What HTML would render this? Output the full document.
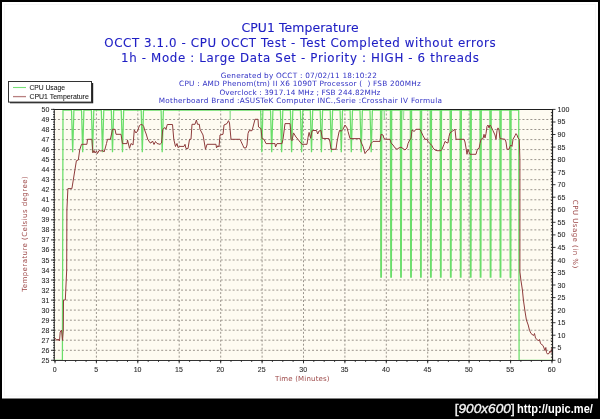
<!DOCTYPE html>
<html><head><meta charset="utf-8"><style>
html,body{margin:0;padding:0;background:#000;}
body{width:600px;height:419px;overflow:hidden;position:relative;}
svg{position:absolute;left:0;top:0;}
.g{stroke:#9a948c;stroke-width:1;stroke-dasharray:1.985 1.985;}
.al{font-family:"Liberation Sans",Arial,sans-serif;font-size:7.8px;fill:#2a2a2a;stroke:#2a2a2a;stroke-width:0.1;}
.t{font-family:"DejaVu Sans",Verdana,sans-serif;fill:#1e1ec4;stroke:#1e1ec4;stroke-width:0.12;}
.s{font-family:"DejaVu Sans",Verdana,sans-serif;fill:#3030c4;font-size:7.3px;}
.lg{font-family:"Liberation Sans",Arial,sans-serif;font-size:7.5px;fill:#1a1a1a;stroke:#1a1a1a;stroke-width:0.08;}
.ax{font-family:"DejaVu Sans",Verdana,sans-serif;font-size:7px;fill:#9c4646;}
</style></head><body>
<svg width="600" height="419" viewBox="0 0 600 419">
<rect x="0" y="0" width="600" height="419" fill="#000"/>
<rect x="2" y="2" width="596" height="396.5" fill="#fff"/>
<rect x="4.5" y="4.5" width="591" height="391.5" fill="none" stroke="#f7f7f7" stroke-width="1"/>
<text x="300" y="31.6" class="t" font-size="12.4" text-anchor="middle" textLength="117" lengthAdjust="spacing">CPU1 Temperature</text>
<text x="300" y="46.8" class="t" font-size="11.8" text-anchor="middle" textLength="391.5" lengthAdjust="spacing">OCCT 3.1.0 - CPU OCCT Test - Test Completed without errors</text>
<text x="300" y="61.5" class="t" font-size="11.8" text-anchor="middle" textLength="357.8" lengthAdjust="spacing">1h - Mode : Large Data Set - Priority : HIGH - 6 threads</text>
<text x="298.8" y="77.7" class="s" text-anchor="middle" textLength="156.2" lengthAdjust="spacing">Generated by OCCT : 07/02/11 18:10:22</text>
<text x="299.9" y="86.1" class="s" style="white-space:pre" text-anchor="middle" textLength="241.7" lengthAdjust="spacing">CPU : AMD Phenom(tm) II X6 1090T Processor (  ) FSB 200MHz</text>
<text x="299.9" y="94.7" class="s" text-anchor="middle" textLength="161" lengthAdjust="spacing">Overclock : 3917.14 MHz ; FSB 244.82MHz</text>
<text x="300.4" y="102.8" class="s" text-anchor="middle" textLength="283.3" lengthAdjust="spacing">Motherboard Brand :ASUSTeK Computer INC.,Serie :Crosshair IV Formula</text>
<!-- legend -->
<rect x="10" y="83" width="83.2" height="20.3" fill="#222"/>
<rect x="8.5" y="81.5" width="83" height="20.6" fill="#fff" stroke="#333" stroke-width="1"/>
<line x1="13" y1="87.5" x2="26" y2="87.5" stroke="#78e078" stroke-width="1.1"/>
<line x1="13" y1="96.6" x2="26" y2="96.6" stroke="#b88080" stroke-width="1.3"/>
<text x="29.4" y="89.9" class="lg" textLength="35.6" lengthAdjust="spacingAndGlyphs">CPU Usage</text>
<text x="29.4" y="99.2" class="lg" textLength="59.4" lengthAdjust="spacingAndGlyphs">CPU1 Temperature</text>
<rect x="54.0" y="109.5" width="498.5" height="250.9" fill="#fefbf1"/>
<line x1="54.0" y1="350.3" x2="552.5" y2="350.3" class="g"/>
<line x1="54.0" y1="340.2" x2="552.5" y2="340.2" class="g"/>
<line x1="54.0" y1="330.2" x2="552.5" y2="330.2" class="g"/>
<line x1="54.0" y1="320.2" x2="552.5" y2="320.2" class="g"/>
<line x1="54.0" y1="310.1" x2="552.5" y2="310.1" class="g"/>
<line x1="54.0" y1="300.1" x2="552.5" y2="300.1" class="g"/>
<line x1="54.0" y1="290.1" x2="552.5" y2="290.1" class="g"/>
<line x1="54.0" y1="280.0" x2="552.5" y2="280.0" class="g"/>
<line x1="54.0" y1="270.0" x2="552.5" y2="270.0" class="g"/>
<line x1="54.0" y1="260.0" x2="552.5" y2="260.0" class="g"/>
<line x1="54.0" y1="249.9" x2="552.5" y2="249.9" class="g"/>
<line x1="54.0" y1="239.9" x2="552.5" y2="239.9" class="g"/>
<line x1="54.0" y1="229.9" x2="552.5" y2="229.9" class="g"/>
<line x1="54.0" y1="219.8" x2="552.5" y2="219.8" class="g"/>
<line x1="54.0" y1="209.8" x2="552.5" y2="209.8" class="g"/>
<line x1="54.0" y1="199.8" x2="552.5" y2="199.8" class="g"/>
<line x1="54.0" y1="189.7" x2="552.5" y2="189.7" class="g"/>
<line x1="54.0" y1="179.7" x2="552.5" y2="179.7" class="g"/>
<line x1="54.0" y1="169.7" x2="552.5" y2="169.7" class="g"/>
<line x1="54.0" y1="159.6" x2="552.5" y2="159.6" class="g"/>
<line x1="54.0" y1="149.6" x2="552.5" y2="149.6" class="g"/>
<line x1="54.0" y1="139.6" x2="552.5" y2="139.6" class="g"/>
<line x1="54.0" y1="129.5" x2="552.5" y2="129.5" class="g"/>
<line x1="54.0" y1="119.5" x2="552.5" y2="119.5" class="g"/>
<line x1="96.4" y1="109.5" x2="96.4" y2="360.3" class="g"/>
<line x1="137.8" y1="109.5" x2="137.8" y2="360.3" class="g"/>
<line x1="179.2" y1="109.5" x2="179.2" y2="360.3" class="g"/>
<line x1="220.7" y1="109.5" x2="220.7" y2="360.3" class="g"/>
<line x1="262.1" y1="109.5" x2="262.1" y2="360.3" class="g"/>
<line x1="303.5" y1="109.5" x2="303.5" y2="360.3" class="g"/>
<line x1="344.9" y1="109.5" x2="344.9" y2="360.3" class="g"/>
<line x1="386.3" y1="109.5" x2="386.3" y2="360.3" class="g"/>
<line x1="427.7" y1="109.5" x2="427.7" y2="360.3" class="g"/>
<line x1="469.1" y1="109.5" x2="469.1" y2="360.3" class="g"/>
<line x1="510.6" y1="109.5" x2="510.6" y2="360.3" class="g"/>
<polyline points="54.5,360.4 62.4,360.4 63.0,110.0 71.5,110.0 72.7,152.2 73.9,110.0 81.5,110.0 82.7,152.2 83.9,110.0 91.4,110.0 92.6,152.2 93.8,110.0 101.3,110.0 102.5,152.2 103.8,110.0 111.3,110.0 112.5,152.2 113.7,110.0 121.2,110.0 122.5,152.2 123.7,110.0 141.2,110.0 142.3,152.2 143.5,110.0 161.1,110.0 162.2,152.2 163.4,110.0 260.6,110.0 261.8,152.2 262.9,110.0 270.5,110.0 271.7,152.2 272.9,110.0 280.4,110.0 281.6,152.2 282.8,110.0 290.4,110.0 291.6,152.2 292.8,110.0 300.4,110.0 301.6,152.2 302.8,110.0 310.3,110.0 311.5,152.2 312.7,110.0 320.2,110.0 321.4,152.2 322.6,110.0 330.2,110.0 331.4,152.2 332.6,110.0 340.1,110.0 341.3,152.2 342.5,110.0 350.1,110.0 351.3,152.2 352.5,110.0 360.0,110.0 361.2,152.2 362.4,110.0 370.0,110.0 371.2,152.2 372.4,110.0 380.5,110.0 380.8,277.0 381.4,277.0 381.8,110.0 390.4,110.0 390.8,277.0 391.4,277.0 391.7,110.0 400.4,110.0 400.7,277.0 401.3,277.0 401.7,110.0 410.3,110.0 410.7,277.0 411.3,277.0 411.6,110.0 420.3,110.0 420.6,277.0 421.2,277.0 421.6,110.0 430.2,110.0 430.6,277.0 431.2,277.0 431.5,110.0 440.2,110.0 440.5,277.0 441.1,277.0 441.5,110.0 450.1,110.0 450.5,277.0 451.1,277.0 451.4,110.0 460.1,110.0 460.4,277.0 461.0,277.0 461.4,110.0 470.1,110.0 470.4,277.0 471.0,277.0 471.3,110.0 480.0,110.0 480.3,277.0 480.9,277.0 481.3,110.0 489.9,110.0 490.3,277.0 490.9,277.0 491.2,110.0 499.9,110.0 500.2,277.0 500.8,277.0 501.2,110.0 509.8,110.0 510.2,277.0 510.8,277.0 511.1,110.0 518.7,110.0 519.1,360.4 552.0,360.4" fill="none" stroke="#6ade6a" stroke-width="1.25" stroke-linejoin="miter"/>
<path d="M229.8 110.0L230.2 119.5L230.6 110.0M383.9 110.0L384.3 119.5L384.7 110.0M403.1 110.0L403.5 120.0L403.9 110.0" fill="none" stroke="#8fdc8f" stroke-width="0.8"/>
<polyline points="54.0,340.0 55.5,338.5 57.0,340.5 58.0,339.0 59.5,341.0 60.2,332.0 61.5,330.0 62.5,340.5 63.3,330.0 63.5,300.0 65.3,300.0 66.7,270.0 66.9,210.0 67.9,188.6 71.9,188.6 76.4,160.7 78.3,160.0 79.7,150.0 81.5,144.3 86.9,144.3 87.5,139.3 91.9,139.3 92.9,152.9 94.0,150.5 95.0,153.0 96.5,151.0 97.5,153.5 99.0,150.5 101.0,151.0 103.0,150.5 104.0,152.0 105.0,149.0 106.5,143.5 107.5,139.3 110.4,139.3 111.5,134.0 112.5,129.3 115.0,129.3 116.0,134.3 121.0,134.3 122.5,143.6 127.0,143.6 127.5,140.0 129.5,148.3 131.0,143.5 133.0,145.0 134.3,130.0 136.0,133.0 137.5,131.0 139.3,126.0 140.5,124.6 142.3,124.6 143.7,126.5 145.0,131.0 146.2,134.0 147.7,139.1 150.0,142.8 151.0,143.0 152.5,141.0 154.0,144.5 155.5,141.5 157.0,143.5 160.0,144.3 161.5,143.0 162.8,129.3 165.0,127.5 166.0,129.0 167.3,124.5 172.5,124.5 173.8,139.5 175.5,146.5 177.0,143.5 178.0,147.5 180.0,146.4 184.0,146.4 185.0,144.3 186.0,148.6 188.0,148.6 189.5,139.3 191.0,139.3 192.0,124.3 195.0,124.3 196.4,120.0 197.5,124.3 199.3,124.3 200.0,129.3 203.0,135.0 205.5,149.3 207.0,144.3 216.0,144.3 216.5,147.9 218.0,145.7 219.0,147.0 220.0,135.0 223.0,134.3 224.0,125.0 227.0,123.6 228.5,120.7 229.5,123.0 231.0,139.3 240.0,139.3 241.0,141.4 243.0,145.7 244.0,147.9 246.0,147.9 247.0,145.0 248.0,133.6 249.0,130.7 252.0,130.7 253.0,127.0 255.0,119.3 258.0,119.3 258.5,127.0 261.0,128.6 262.0,138.6 264.0,139.3 266.0,143.6 275.0,143.6 275.5,147.0 277.0,143.6 282.0,143.6 283.0,139.3 285.0,123.6 290.0,123.6 290.5,129.3 291.0,139.3 292.0,140.7 293.5,132.9 296.0,137.0 298.0,139.3 300.0,142.0 302.0,144.3 307.0,144.3 308.0,137.5 309.1,132.4 310.7,138.3 312.0,131.0 313.0,130.5 316.5,130.5 317.7,134.0 319.0,131.0 321.0,130.5 322.3,138.4 329.0,138.6 330.0,142.0 331.0,149.3 336.0,149.3 337.0,142.0 339.0,132.0 340.0,130.0 341.0,131.4 343.0,129.3 345.0,125.0 347.0,127.9 348.0,131.4 350.0,138.6 360.0,138.6 361.0,142.0 363.0,146.4 365.0,153.6 367.0,150.7 369.0,149.3 371.0,143.6 373.0,141.4 380.0,141.4 381.0,134.3 383.0,135.0 384.0,138.6 386.0,139.3 390.0,139.3 391.0,142.9 393.0,145.0 395.0,147.9 397.0,149.3 399.0,147.9 401.0,147.1 403.0,148.6 405.0,150.0 407.0,147.9 408.0,143.6 410.0,139.3 411.0,138.6 412.0,130.0 414.0,131.4 415.0,130.7 416.0,129.3 420.0,129.3 421.0,131.4 423.0,135.7 425.0,139.3 427.0,139.3 428.0,141.4 430.0,143.6 432.0,145.7 433.0,147.9 435.0,150.0 437.0,150.7 441.0,150.7 442.0,149.3 444.0,144.3 445.0,141.4 447.0,142.9 448.0,142.9 449.0,136.4 450.0,132.9 452.0,131.4 454.0,130.0 455.0,129.3 456.0,139.3 464.0,139.3 465.0,142.0 466.0,147.9 467.0,154.3 468.0,149.3 469.0,152.1 470.0,154.3 476.0,154.3 477.0,150.7 478.0,148.6 479.0,148.6 480.0,143.6 481.0,139.3 483.0,138.6 484.0,134.3 485.0,137.9 486.0,133.6 487.0,126.4 488.0,125.0 489.0,127.9 490.0,125.0 491.0,126.4 493.0,130.7 495.0,135.0 496.0,139.3 497.0,130.7 498.0,127.9 499.0,130.0 500.0,138.6 505.0,139.3 506.0,142.0 507.0,149.3 509.0,149.3 510.0,146.4 511.0,145.0 512.0,146.4 513.0,139.3 515.0,135.7 516.0,133.6 517.0,135.0 518.0,137.9 519.3,139.3 519.9,160.0 519.9,272.0 520.9,280.0 522.4,290.0 523.4,300.0 524.8,310.0 526.4,320.0 528.2,325.0 529.5,330.3 531.0,333.5 533.5,335.5 534.5,333.5 535.5,338.0 536.5,339.0 538.5,341.0 539.5,339.5 540.5,343.5 543.0,345.5 544.0,348.0 545.0,350.5 545.8,347.5 546.5,352.5 547.5,354.0 549.0,353.5 550.0,351.0 551.0,352.5 552.2,347.0" fill="none" stroke="#8e3c3c" stroke-width="1" />
<line x1="53.7" y1="109.5" x2="553.1" y2="109.5" stroke="#1e1e1e" stroke-width="1.1"/>
<line x1="54.3" y1="109.5" x2="54.3" y2="361.2" stroke="#333" stroke-width="1"/>
<line x1="552.5" y1="109.5" x2="552.5" y2="361.0" stroke="#222" stroke-width="1.2"/>
<line x1="53.8" y1="360.45" x2="553.1" y2="360.45" stroke="#333" stroke-width="1.1"/>
<path d="M51.0 360.3H54.0M51.0 350.3H54.0M51.0 340.2H54.0M51.0 330.2H54.0M51.0 320.2H54.0M51.0 310.1H54.0M51.0 300.1H54.0M51.0 290.1H54.0M51.0 280.0H54.0M51.0 270.0H54.0M51.0 260.0H54.0M51.0 249.9H54.0M51.0 239.9H54.0M51.0 229.9H54.0M51.0 219.8H54.0M51.0 209.8H54.0M51.0 199.8H54.0M51.0 189.7H54.0M51.0 179.7H54.0M51.0 169.7H54.0M51.0 159.6H54.0M51.0 149.6H54.0M51.0 139.6H54.0M51.0 129.5H54.0M51.0 119.5H54.0M51.0 109.4H54.0M53.0 360.3H54.8M53.0 357.8H54.8M53.0 355.3H54.8M53.0 352.8H54.8M53.0 350.3H54.8M53.0 347.8H54.8M53.0 345.2H54.8M53.0 342.7H54.8M53.0 340.2H54.8M53.0 337.7H54.8M53.0 335.2H54.8M53.0 332.7H54.8M53.0 330.2H54.8M53.0 327.7H54.8M53.0 325.2H54.8M53.0 322.7H54.8M53.0 320.2H54.8M53.0 317.7H54.8M53.0 315.1H54.8M53.0 312.6H54.8M53.0 310.1H54.8M53.0 307.6H54.8M53.0 305.1H54.8M53.0 302.6H54.8M53.0 300.1H54.8M53.0 297.6H54.8M53.0 295.1H54.8M53.0 292.6H54.8M53.0 290.1H54.8M53.0 287.6H54.8M53.0 285.0H54.8M53.0 282.5H54.8M53.0 280.0H54.8M53.0 277.5H54.8M53.0 275.0H54.8M53.0 272.5H54.8M53.0 270.0H54.8M53.0 267.5H54.8M53.0 265.0H54.8M53.0 262.5H54.8M53.0 260.0H54.8M53.0 257.5H54.8M53.0 254.9H54.8M53.0 252.4H54.8M53.0 249.9H54.8M53.0 247.4H54.8M53.0 244.9H54.8M53.0 242.4H54.8M53.0 239.9H54.8M53.0 237.4H54.8M53.0 234.9H54.8M53.0 232.4H54.8M53.0 229.9H54.8M53.0 227.3H54.8M53.0 224.8H54.8M53.0 222.3H54.8M53.0 219.8H54.8M53.0 217.3H54.8M53.0 214.8H54.8M53.0 212.3H54.8M53.0 209.8H54.8M53.0 207.3H54.8M53.0 204.8H54.8M53.0 202.3H54.8M53.0 199.8H54.8M53.0 197.2H54.8M53.0 194.7H54.8M53.0 192.2H54.8M53.0 189.7H54.8M53.0 187.2H54.8M53.0 184.7H54.8M53.0 182.2H54.8M53.0 179.7H54.8M53.0 177.2H54.8M53.0 174.7H54.8M53.0 172.2H54.8M53.0 169.7H54.8M53.0 167.1H54.8M53.0 164.6H54.8M53.0 162.1H54.8M53.0 159.6H54.8M53.0 157.1H54.8M53.0 154.6H54.8M53.0 152.1H54.8M53.0 149.6H54.8M53.0 147.1H54.8M53.0 144.6H54.8M53.0 142.1H54.8M53.0 139.6H54.8M53.0 137.0H54.8M53.0 134.5H54.8M53.0 132.0H54.8M53.0 129.5H54.8M53.0 127.0H54.8M53.0 124.5H54.8M53.0 122.0H54.8M53.0 119.5H54.8M53.0 117.0H54.8M53.0 114.5H54.8M53.0 112.0H54.8M53.0 109.4H54.8M552.5 360.3H555.5M552.5 347.8H555.5M552.5 335.2H555.5M552.5 322.7H555.5M552.5 310.1H555.5M552.5 297.6H555.5M552.5 285.0H555.5M552.5 272.5H555.5M552.5 260.0H555.5M552.5 247.4H555.5M552.5 234.9H555.5M552.5 222.3H555.5M552.5 209.8H555.5M552.5 197.2H555.5M552.5 184.7H555.5M552.5 172.2H555.5M552.5 159.6H555.5M552.5 147.1H555.5M552.5 134.5H555.5M552.5 122.0H555.5M552.5 109.4H555.5M550.9 360.3H552.5M550.9 357.2H552.5M550.9 354.0H552.5M550.9 350.9H552.5M550.9 347.8H552.5M550.9 344.6H552.5M550.9 341.5H552.5M550.9 338.4H552.5M550.9 335.2H552.5M550.9 332.1H552.5M550.9 328.9H552.5M550.9 325.8H552.5M550.9 322.7H552.5M550.9 319.5H552.5M550.9 316.4H552.5M550.9 313.3H552.5M550.9 310.1H552.5M550.9 307.0H552.5M550.9 303.9H552.5M550.9 300.7H552.5M550.9 297.6H552.5M550.9 294.5H552.5M550.9 291.3H552.5M550.9 288.2H552.5M550.9 285.0H552.5M550.9 281.9H552.5M550.9 278.8H552.5M550.9 275.6H552.5M550.9 272.5H552.5M550.9 269.4H552.5M550.9 266.2H552.5M550.9 263.1H552.5M550.9 260.0H552.5M550.9 256.8H552.5M550.9 253.7H552.5M550.9 250.6H552.5M550.9 247.4H552.5M550.9 244.3H552.5M550.9 241.1H552.5M550.9 238.0H552.5M550.9 234.9H552.5M550.9 231.7H552.5M550.9 228.6H552.5M550.9 225.5H552.5M550.9 222.3H552.5M550.9 219.2H552.5M550.9 216.1H552.5M550.9 212.9H552.5M550.9 209.8H552.5M550.9 206.7H552.5M550.9 203.5H552.5M550.9 200.4H552.5M550.9 197.2H552.5M550.9 194.1H552.5M550.9 191.0H552.5M550.9 187.8H552.5M550.9 184.7H552.5M550.9 181.6H552.5M550.9 178.4H552.5M550.9 175.3H552.5M550.9 172.2H552.5M550.9 169.0H552.5M550.9 165.9H552.5M550.9 162.8H552.5M550.9 159.6H552.5M550.9 156.5H552.5M550.9 153.3H552.5M550.9 150.2H552.5M550.9 147.1H552.5M550.9 143.9H552.5M550.9 140.8H552.5M550.9 137.7H552.5M550.9 134.5H552.5M550.9 131.4H552.5M550.9 128.3H552.5M550.9 125.1H552.5M550.9 122.0H552.5M550.9 118.9H552.5M550.9 115.7H552.5M550.9 112.6H552.5M550.9 109.5H552.5M55.0 360.3V363.3M96.4 360.3V363.3M137.8 360.3V363.3M179.2 360.3V363.3M220.7 360.3V363.3M262.1 360.3V363.3M303.5 360.3V363.3M344.9 360.3V363.3M386.3 360.3V363.3M427.7 360.3V363.3M469.1 360.3V363.3M510.6 360.3V363.3M552.0 360.3V363.3M55.0 360.3V361.9M65.4 360.3V361.9M75.7 360.3V361.9M86.1 360.3V361.9M96.4 360.3V361.9M106.8 360.3V361.9M117.1 360.3V361.9M127.5 360.3V361.9M137.8 360.3V361.9M148.2 360.3V361.9M158.5 360.3V361.9M168.9 360.3V361.9M179.2 360.3V361.9M189.6 360.3V361.9M200.0 360.3V361.9M210.3 360.3V361.9M220.7 360.3V361.9M231.0 360.3V361.9M241.4 360.3V361.9M251.7 360.3V361.9M262.1 360.3V361.9M272.4 360.3V361.9M282.8 360.3V361.9M293.1 360.3V361.9M303.5 360.3V361.9M313.8 360.3V361.9M324.2 360.3V361.9M334.6 360.3V361.9M344.9 360.3V361.9M355.3 360.3V361.9M365.6 360.3V361.9M376.0 360.3V361.9M386.3 360.3V361.9M396.7 360.3V361.9M407.0 360.3V361.9M417.4 360.3V361.9M427.7 360.3V361.9M438.1 360.3V361.9M448.4 360.3V361.9M458.8 360.3V361.9M469.1 360.3V361.9M479.5 360.3V361.9M489.9 360.3V361.9M500.2 360.3V361.9M510.6 360.3V361.9M520.9 360.3V361.9M531.3 360.3V361.9M541.6 360.3V361.9M552.0 360.3V361.9" stroke="#222" stroke-width="0.9" fill="none"/>
<text x="49.30" y="363.09" class="al" text-anchor="end" textLength="7.80" lengthAdjust="spacingAndGlyphs">25</text>
<text x="49.30" y="353.03" class="al" text-anchor="end" textLength="7.80" lengthAdjust="spacingAndGlyphs">26</text>
<text x="49.30" y="342.97" class="al" text-anchor="end" textLength="7.80" lengthAdjust="spacingAndGlyphs">27</text>
<text x="49.30" y="332.92" class="al" text-anchor="end" textLength="7.80" lengthAdjust="spacingAndGlyphs">28</text>
<text x="49.30" y="322.86" class="al" text-anchor="end" textLength="7.80" lengthAdjust="spacingAndGlyphs">29</text>
<text x="49.30" y="312.80" class="al" text-anchor="end" textLength="7.80" lengthAdjust="spacingAndGlyphs">30</text>
<text x="49.30" y="302.74" class="al" text-anchor="end" textLength="7.80" lengthAdjust="spacingAndGlyphs">31</text>
<text x="49.30" y="292.68" class="al" text-anchor="end" textLength="7.80" lengthAdjust="spacingAndGlyphs">32</text>
<text x="49.30" y="282.63" class="al" text-anchor="end" textLength="7.80" lengthAdjust="spacingAndGlyphs">33</text>
<text x="49.30" y="272.57" class="al" text-anchor="end" textLength="7.80" lengthAdjust="spacingAndGlyphs">34</text>
<text x="49.30" y="262.51" class="al" text-anchor="end" textLength="7.80" lengthAdjust="spacingAndGlyphs">35</text>
<text x="49.30" y="252.45" class="al" text-anchor="end" textLength="7.80" lengthAdjust="spacingAndGlyphs">36</text>
<text x="49.30" y="242.39" class="al" text-anchor="end" textLength="7.80" lengthAdjust="spacingAndGlyphs">37</text>
<text x="49.30" y="232.34" class="al" text-anchor="end" textLength="7.80" lengthAdjust="spacingAndGlyphs">38</text>
<text x="49.30" y="222.28" class="al" text-anchor="end" textLength="7.80" lengthAdjust="spacingAndGlyphs">39</text>
<text x="49.30" y="212.22" class="al" text-anchor="end" textLength="7.80" lengthAdjust="spacingAndGlyphs">40</text>
<text x="49.30" y="202.16" class="al" text-anchor="end" textLength="7.80" lengthAdjust="spacingAndGlyphs">41</text>
<text x="49.30" y="192.10" class="al" text-anchor="end" textLength="7.80" lengthAdjust="spacingAndGlyphs">42</text>
<text x="49.30" y="182.05" class="al" text-anchor="end" textLength="7.80" lengthAdjust="spacingAndGlyphs">43</text>
<text x="49.30" y="171.99" class="al" text-anchor="end" textLength="7.80" lengthAdjust="spacingAndGlyphs">44</text>
<text x="49.30" y="161.93" class="al" text-anchor="end" textLength="7.80" lengthAdjust="spacingAndGlyphs">45</text>
<text x="49.30" y="151.87" class="al" text-anchor="end" textLength="7.80" lengthAdjust="spacingAndGlyphs">46</text>
<text x="49.30" y="141.81" class="al" text-anchor="end" textLength="7.80" lengthAdjust="spacingAndGlyphs">47</text>
<text x="49.30" y="131.76" class="al" text-anchor="end" textLength="7.80" lengthAdjust="spacingAndGlyphs">48</text>
<text x="49.30" y="121.70" class="al" text-anchor="end" textLength="7.80" lengthAdjust="spacingAndGlyphs">49</text>
<text x="49.30" y="111.64" class="al" text-anchor="end" textLength="7.80" lengthAdjust="spacingAndGlyphs">50</text>
<text x="557.60" y="362.99" class="al" text-anchor="start" textLength="3.90" lengthAdjust="spacingAndGlyphs">0</text>
<text x="557.60" y="350.43" class="al" text-anchor="start" textLength="3.90" lengthAdjust="spacingAndGlyphs">5</text>
<text x="557.60" y="337.88" class="al" text-anchor="start" textLength="7.80" lengthAdjust="spacingAndGlyphs">10</text>
<text x="557.60" y="325.32" class="al" text-anchor="start" textLength="7.80" lengthAdjust="spacingAndGlyphs">15</text>
<text x="557.60" y="312.76" class="al" text-anchor="start" textLength="7.80" lengthAdjust="spacingAndGlyphs">20</text>
<text x="557.60" y="300.20" class="al" text-anchor="start" textLength="7.80" lengthAdjust="spacingAndGlyphs">25</text>
<text x="557.60" y="287.65" class="al" text-anchor="start" textLength="7.80" lengthAdjust="spacingAndGlyphs">30</text>
<text x="557.60" y="275.09" class="al" text-anchor="start" textLength="7.80" lengthAdjust="spacingAndGlyphs">35</text>
<text x="557.60" y="262.53" class="al" text-anchor="start" textLength="7.80" lengthAdjust="spacingAndGlyphs">40</text>
<text x="557.60" y="249.97" class="al" text-anchor="start" textLength="7.80" lengthAdjust="spacingAndGlyphs">45</text>
<text x="557.60" y="237.41" class="al" text-anchor="start" textLength="7.80" lengthAdjust="spacingAndGlyphs">50</text>
<text x="557.60" y="224.86" class="al" text-anchor="start" textLength="7.80" lengthAdjust="spacingAndGlyphs">55</text>
<text x="557.60" y="212.30" class="al" text-anchor="start" textLength="7.80" lengthAdjust="spacingAndGlyphs">60</text>
<text x="557.60" y="199.74" class="al" text-anchor="start" textLength="7.80" lengthAdjust="spacingAndGlyphs">65</text>
<text x="557.60" y="187.19" class="al" text-anchor="start" textLength="7.80" lengthAdjust="spacingAndGlyphs">70</text>
<text x="557.60" y="174.63" class="al" text-anchor="start" textLength="7.80" lengthAdjust="spacingAndGlyphs">75</text>
<text x="557.60" y="162.07" class="al" text-anchor="start" textLength="7.80" lengthAdjust="spacingAndGlyphs">80</text>
<text x="557.60" y="149.51" class="al" text-anchor="start" textLength="7.80" lengthAdjust="spacingAndGlyphs">85</text>
<text x="557.60" y="136.95" class="al" text-anchor="start" textLength="7.80" lengthAdjust="spacingAndGlyphs">90</text>
<text x="557.60" y="124.40" class="al" text-anchor="start" textLength="7.80" lengthAdjust="spacingAndGlyphs">95</text>
<text x="557.60" y="111.84" class="al" text-anchor="start" textLength="11.70" lengthAdjust="spacingAndGlyphs">100</text>
<text x="54.70" y="372.24" class="al" text-anchor="middle" textLength="3.90" lengthAdjust="spacingAndGlyphs">0</text>
<text x="96.11" y="372.24" class="al" text-anchor="middle" textLength="3.90" lengthAdjust="spacingAndGlyphs">5</text>
<text x="137.53" y="372.24" class="al" text-anchor="middle" textLength="7.80" lengthAdjust="spacingAndGlyphs">10</text>
<text x="178.94" y="372.24" class="al" text-anchor="middle" textLength="7.80" lengthAdjust="spacingAndGlyphs">15</text>
<text x="220.36" y="372.24" class="al" text-anchor="middle" textLength="7.80" lengthAdjust="spacingAndGlyphs">20</text>
<text x="261.77" y="372.24" class="al" text-anchor="middle" textLength="7.80" lengthAdjust="spacingAndGlyphs">25</text>
<text x="303.19" y="372.24" class="al" text-anchor="middle" textLength="7.80" lengthAdjust="spacingAndGlyphs">30</text>
<text x="344.60" y="372.24" class="al" text-anchor="middle" textLength="7.80" lengthAdjust="spacingAndGlyphs">35</text>
<text x="386.02" y="372.24" class="al" text-anchor="middle" textLength="7.80" lengthAdjust="spacingAndGlyphs">40</text>
<text x="427.43" y="372.24" class="al" text-anchor="middle" textLength="7.80" lengthAdjust="spacingAndGlyphs">45</text>
<text x="468.85" y="372.24" class="al" text-anchor="middle" textLength="7.80" lengthAdjust="spacingAndGlyphs">50</text>
<text x="510.26" y="372.24" class="al" text-anchor="middle" textLength="7.80" lengthAdjust="spacingAndGlyphs">55</text>
<text x="551.68" y="372.24" class="al" text-anchor="middle" textLength="7.80" lengthAdjust="spacingAndGlyphs">60</text>
<text x="302.3" y="381.3" class="ax" text-anchor="middle" textLength="54.6" lengthAdjust="spacing" font-size="7.3">Time (Minutes)</text>
<text transform="translate(27.0,234.1) rotate(-90)" class="ax" text-anchor="middle" textLength="115.5" lengthAdjust="spacing" font-size="7.1">Temperature (Celsius degree)</text>
<text transform="translate(573.4,234.0) rotate(90)" class="ax" text-anchor="middle" textLength="68.4" lengthAdjust="spacing" font-size="7.3">CPU Usage (in %)</text>
<text x="454.7" y="412.9" font-family="Liberation Sans,sans-serif" font-size="13.4" fill="#f4f4f4" stroke="#f4f4f4" stroke-width="0.35" textLength="60" lengthAdjust="spacingAndGlyphs">[<tspan font-style="italic">900x600</tspan>]</text>
<text x="517.1" y="412.9" font-family="Liberation Sans,sans-serif" font-weight="bold" font-size="12.8" fill="#fff" textLength="75.8" lengthAdjust="spacingAndGlyphs">http://upic.me/</text>
</svg>
</body></html>
